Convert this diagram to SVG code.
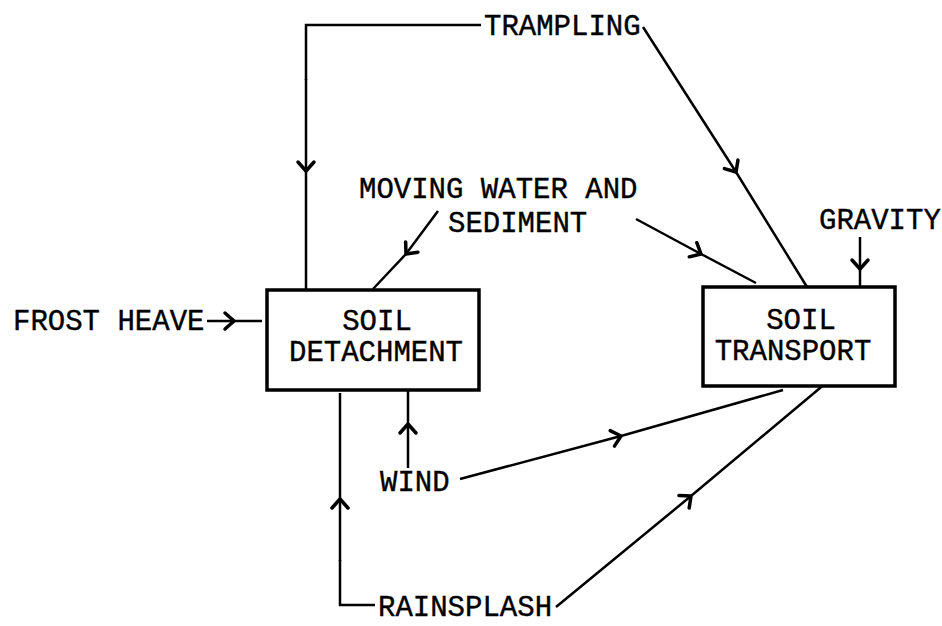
<svg xmlns="http://www.w3.org/2000/svg" width="942" height="626" viewBox="0 0 942 626">
<style>
text{font-family:"Liberation Mono","Courier New",monospace;font-size:29px;fill:#000;stroke:#000;stroke-width:0.4}
.box{fill:#fff;stroke:#000;stroke-width:3.5}
.ln{fill:none;stroke:#000;stroke-width:2.5;stroke-linejoin:miter}
.ar{fill:none;stroke:#000;stroke-width:2.5;marker-mid:url(#chev)}
.c{text-anchor:middle}
</style>
<defs>
<marker id="chev" markerUnits="userSpaceOnUse" markerWidth="30" markerHeight="30" viewBox="-15 -15 30 30" refX="0" refY="0" orient="auto">
<path d="M -9 -8 L 0 0 L -9 8" fill="none" stroke="#000" stroke-width="3.5" stroke-linecap="round" stroke-linejoin="round"/>
</marker>
</defs>
<rect width="942" height="626" fill="#fff"/>
<g id="connectors">
<path class="ln" d="M 481 25 L 306 25 L 306 80"/>
<path class="ar" d="M 306 79 L 306 171 L 306 290"/>
<path class="ar" d="M 643 27 L 736 172 L 807 287"/>
<path class="ar" d="M 438 211 L 406 254 L 373 289"/>
<path class="ar" d="M 636 219 L 701 254 L 756 283"/>
<path class="ar" d="M 860 237 L 860 269 L 860 287"/>
<path class="ar" d="M 207 321 L 234 321 L 262 321"/>
<path class="ar" d="M 408 468 L 408 424 L 408 391"/>
<path class="ar" d="M 460 479 L 621 436 L 783 390"/>
<path class="ln" d="M 375 605 L 340 605 L 340 560"/>
<path class="ar" d="M 340 561 L 340 499 L 340 393"/>
<path class="ar" d="M 556 607 L 691 496 L 826 383"/>
</g>
<g id="soil-detachment">
<rect class="box" x="267" y="290" width="212" height="100"/>
<text class="c" x="377" y="330">SOIL</text>
<text class="c" x="376" y="361">DETACHMENT</text>
</g>
<g id="soil-transport">
<rect class="box" x="703" y="287" width="192" height="99"/>
<text class="c" x="801" y="329">SOIL</text>
<text class="c" x="793" y="360">TRANSPORT</text>
</g>
<g id="trampling"><text x="484" y="35">TRAMPLING</text></g>
<g id="moving-water">
<text x="359" y="198">MOVING WATER AND</text>
<text x="448" y="232">SEDIMENT</text>
</g>
<g id="gravity"><text x="819" y="229">GRAVITY</text></g>
<g id="frost-heave"><text x="13" y="330">FROST HEAVE</text></g>
<g id="wind"><text x="380" y="491">WIND</text></g>
<g id="rainsplash"><text x="378" y="616">RAINSPLASH</text></g>
</svg>
